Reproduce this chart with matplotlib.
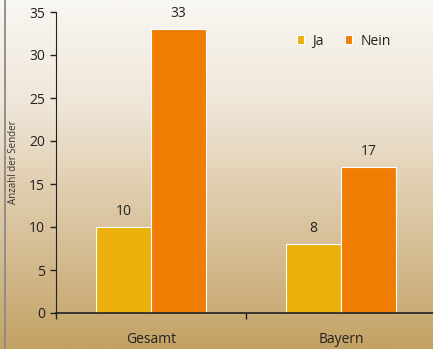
import numpy as np
import matplotlib
matplotlib.use('Agg')
import matplotlib.pyplot as plt
from matplotlib.lines import Line2D
from matplotlib.colors import LinearSegmentedColormap

plt.rcParams['font.family'] = ['Open Sans', 'DejaVu Sans']

groups = ["Gesamt", "Bayern"]
series = ["Ja", "Nein"]
ja = [10, 8]
nein = [33, 17]
colors = ["#ebb00b", "#ef7d03"]

W, H = 433, 349
fig = plt.figure(figsize=(W / 100, H / 100), dpi=100)

# background gradient, light cream at the top to tan at the bottom
bg = fig.add_axes([0, 0, 1, 1], zorder=0)
stops = [(0.0, "#f9f7f3"), (0.3, "#efe6d8"), (0.55, "#e0cdae"),
         (0.75, "#d3ba8f"), (1.0, "#c3a264")]
cmap = LinearSegmentedColormap.from_list("bg", stops)
grad = np.linspace(0, 1, 256).reshape(-1, 1)
bg.imshow(grad, aspect='auto', cmap=cmap, extent=[0, 1, 0, 1], origin='upper')
bg.set_xlim(0, 1)
bg.set_ylim(0, 1)
bg.axis('off')
bg.add_line(Line2D([4.5 / W, 4.5 / W], [0, 1], color="#8a8a8a", lw=1.3))

ax = fig.add_axes([56 / W, 36 / H, 380 / W, 301 / H], zorder=1)
ax.patch.set_alpha(0)

x = np.array([0.5, 1.5])
w = 0.29
b1 = ax.bar(x - w / 2, ja, w, color=colors[0], edgecolor="white", linewidth=0.8, label=series[0])
b2 = ax.bar(x + w / 2, nein, w, color=colors[1], edgecolor="white", linewidth=0.8, label=series[1])
for bars, vals in ((b1, ja), (b2, nein)):
    for r, v in zip(bars, vals):
        ax.text(r.get_x() + r.get_width() / 2, v + 0.9, str(v), ha='center', va='bottom',
                fontsize=10, color="#222222")

ax.set_xlim(0, 2)
ax.set_ylim(0, 35)
ax.set_yticks(range(0, 36, 5))
ax.set_xticks([0, 1, 2])
ax.set_xticklabels([])
ax.set_xticks(x, minor=True)
ax.set_xticklabels(groups, minor=True)
ax.tick_params(axis='x', which='minor', length=0, pad=14, labelsize=10, labelcolor="#222222")
ax.tick_params(axis='x', which='major', length=4, width=1, color="#222222")
ax.tick_params(axis='y', length=4, width=1, color="#222222", labelsize=10,
               labelcolor="#222222", pad=4)
for s in ("top", "right"):
    ax.spines[s].set_visible(False)
ax.spines["left"].set_color("#222222")
ax.spines["bottom"].set_color("#222222")
ax.spines["bottom"].set_linewidth(1.2)
ax.set_ylabel("Anzahl der Sender", fontsize=7, color="#333333", labelpad=7)

ax.legend(loc='upper left', bbox_to_anchor=(0.6, 0.97), ncol=2, frameon=False,
          handlelength=0.55, handleheight=0.55, handletextpad=0.6, columnspacing=1.5,
          fontsize=10, labelcolor="#222222")

fig.savefig("out.png", dpi=100)
